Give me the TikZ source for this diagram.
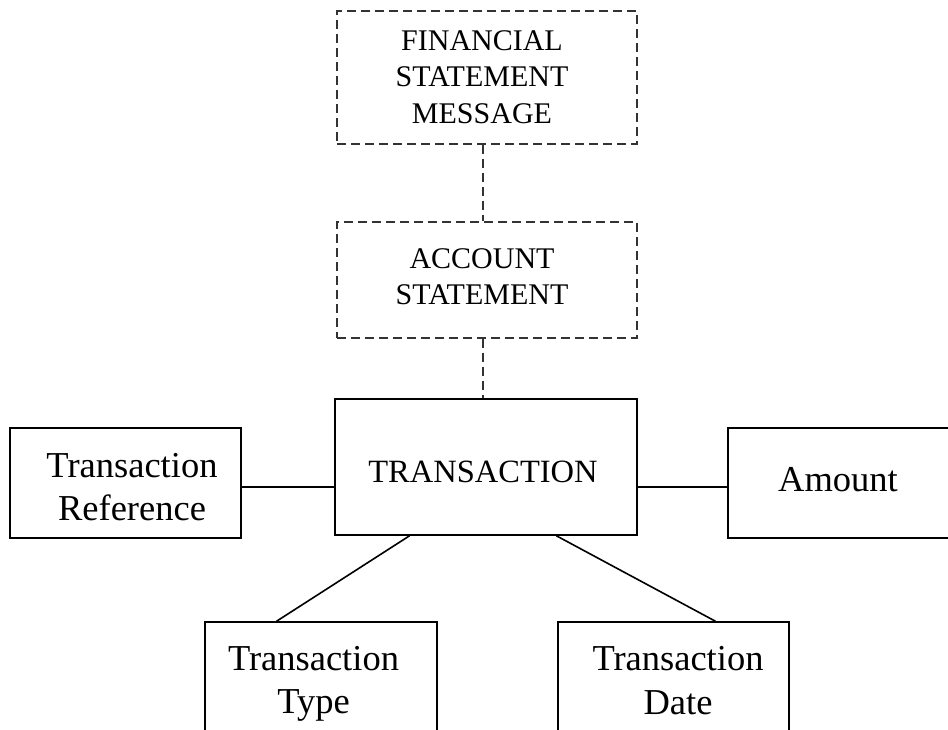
\documentclass[tikz,border=0pt]{standalone}
\usepackage{fontspec}
\setmainfont{Liberation Serif}
\usetikzlibrary{calc}

\tikzset{
  solidbox/.style={draw=black, line width=1.6pt, inner sep=0pt, minimum width=#1},
  dashbox/.style={draw=black!80, line width=1.1pt, dash pattern=on 9pt off 5pt, inner sep=0pt, minimum width=#1},
  dashlink/.style={draw=black!80, line width=1.1pt, dash pattern=on 9pt off 5pt},
  link/.style={draw=black, line width=1.6pt},
  headtext/.style={inner sep=0pt, align=center, font=\fontsize{30}{36.5}\selectfont},
  maintext/.style={inner sep=0pt, font=\fontsize{32.5}{39}\selectfont},
  attrtext/.style={inner sep=0pt, align=center, font=\fontsize{36.5}{43.5}\selectfont},
}

\begin{document}
\begin{tikzpicture}[x=1pt, y=-1pt]
  \useasboundingbox (0,0) rectangle (948,729);
  \clip (0,0) rectangle (948,729);
  \fill[white] (0,0) rectangle (948,729);

  % message hierarchy (dashed)
  \node[dashbox=300pt, minimum height=133pt] (fsm)  at (487,77.5) {};
  \node[dashbox=300pt, minimum height=116pt] (acct) at (487,280) {};

  % transaction entity and its attributes
  \node[solidbox=302pt, minimum height=136pt] (trans) at (486,467) {};
  \node[solidbox=231pt, minimum height=110pt] (ref)   at (125.5,483) {};
  \node[solidbox=251pt, minimum height=110pt] (amt)   at (853.5,483) {};
  \node[solidbox=232pt, minimum height=110pt] (type)  at (321,677) {};
  \node[solidbox=231pt, minimum height=110pt] (date)  at (673.5,677) {};

  % labels
  \node[headtext] (fsmtext)  at (482,79.5)  {\strut FINANCIAL\\STATEMENT\\MESSAGE\strut};
  \node[headtext] (accttext) at (482,279.2) {\strut ACCOUNT\\STATEMENT\strut};
  \node[maintext, anchor=base] (transtext) at (483,482) {TRANSACTION};
  \node[attrtext] (reftext)  at (132,490.5)   {\strut Transaction\\Reference\strut};
  \node[attrtext, anchor=base] (amttext) at (838,491) {Amount};
  \node[attrtext] (typetext) at (313.5,683.3) {\strut Transaction\\Type\strut};
  \node[attrtext] (datetext) at (678,684)     {\strut Transaction\\Date\strut};

  % connectors
  \draw[dashlink] ([xshift=-4pt]fsm.south) -- ([xshift=-4pt]fsm.south |- acct.north);
  \draw[dashlink] ([xshift=-4pt]acct.south) -- ([xshift=-4pt]acct.south |- trans.north);
  \draw[link] ([yshift=-4pt]ref.east) -- ([yshift=-4pt]ref.east -| trans.west);
  \draw[link] ([yshift=-4pt]amt.west) -- ([yshift=-4pt]amt.west -| trans.east);
  \draw[link] ($(trans.south west)!0.248!(trans.south east)$) -- ($(type.north west)!0.31!(type.north east)$);
  \draw[link] ($(trans.south west)!0.732!(trans.south east)$) -- ($(date.north west)!0.68!(date.north east)$);
\end{tikzpicture}
\end{document}
